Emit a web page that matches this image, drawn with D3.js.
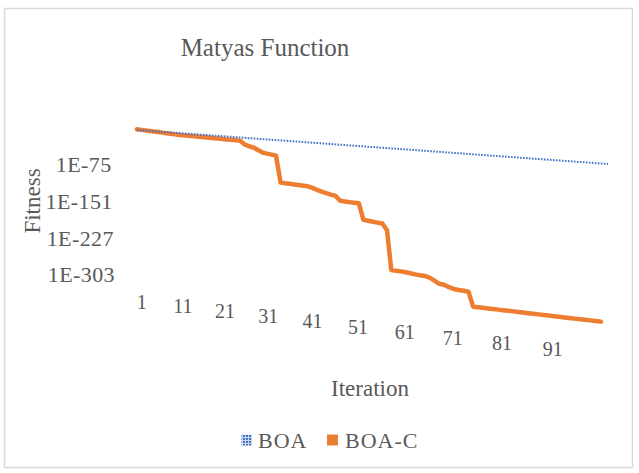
<!DOCTYPE html>
<html>
<head>
<meta charset="utf-8">
<script src="https://cdn.jsdelivr.net/npm/d3@7"></script>
<style>
  html, body { margin: 0; padding: 0; background: #ffffff; }
  svg { display: block; }
  svg text { font-family: 'Liberation Serif', 'DejaVu Serif', serif !important; fill: #595959; }
</style>
</head>
<body>
<svg id="chart" width="639" height="473" font-family="'Liberation Serif', 'DejaVu Serif', serif"></svg>
<script>
// ---------------- DATA ----------------
const title = "Matyas Function";
const xTitle = "Iteration";
const yTitle = "Fitness";
const seriesNames = ["BOA", "BOA-C"];
const iterations = d3.range(1, 101);          // categories 1..100
const xTickLabels = [1, 11, 21, 31, 41, 51, 61, 71, 81, 91];
const yTickExps = [-75, -151, -227, -303];     // log10 of tick values
const yTickLabels = ["1E-75", "1E-151", "1E-227", "1E-303"];

// log10(fitness) per iteration
const boaLog = [
  -1.1,-1.2,-1.2,-1.3,-1.4,-1.4,-1.5,-1.6,-1.6,-1.7,
  -1.7,-1.8,-1.9,-1.9,-2.0,-2.1,-2.1,-2.2,-2.3,-2.3,
  -2.4,-2.5,-2.5,-2.6,-2.7,-2.7,-2.8,-2.8,-2.9,-3.0,
  -3.0,-3.1,-3.2,-3.2,-3.3,-3.4,-3.4,-3.5,-3.6,-3.6,
  -3.7,-3.7,-3.8,-3.9,-3.9,-4.0,-4.1,-4.1,-4.2,-4.3,
  -4.3,-4.4,-4.5,-4.5,-4.6,-4.7,-4.7,-4.8,-4.8,-4.9,
  -5.0,-5.0,-5.1,-5.2,-5.2,-5.3,-5.4,-5.4,-5.5,-5.6,
  -5.6,-5.7,-5.8,-5.8,-5.9,-5.9,-6.0,-6.1,-6.1,-6.2,
  -6.3,-6.3,-6.4,-6.5,-6.5,-6.6,-6.7,-6.7,-6.8,-6.9,
  -6.9,-7.0,-7.0,-7.1,-7.2,-7.2,-7.3,-7.4,-7.4,-7.5
];
const boaCLog = [
  0.3,-0.2,-0.7,-1.2,-1.8,-2.4,-3.0,-3.6,-4.2,-4.8,
  -5.4,-5.7,-5.9,-6.1,-6.3,-6.6,-6.8,-7.0,-7.3,-7.6,
  -7.9,-8.1,-8.4,-8.7,-8.9,-15.5,-18.6,-20.6,-24.8,-28.9,
  -30.6,-31.9,-33.3,-85.0,-85.6,-86.0,-86.5,-87.0,-87.5,-88.0,
  -90.5,-93.5,-96.4,-98.5,-100.5,-102.4,-111.0,-111.6,-112.2,-112.7,
  -113.1,-144.0,-145.0,-146.0,-147.0,-148.0,-160.0,-235.7,-236.2,-236.6,
  -237.3,-238.5,-239.6,-240.2,-240.8,-243.0,-248.0,-253.0,-254.0,-257.5,
  -260.0,-261.0,-261.7,-262.4,-290.0,-290.1,-290.2,-290.3,-290.4,-290.5,
  -290.6,-290.7,-290.8,-290.9,-291.0,-291.1,-291.2,-291.3,-291.4,-291.5,
  -291.6,-291.7,-291.8,-291.9,-292.0,-292.0,-292.1,-292.1,-292.2,-292.3
];

// ---------------- LAYOUT ----------------
const W = 639, H = 473;
const FONT = "'Liberation Serif', 'DejaVu Serif', serif";
const colors = { boa: "#4472C4", boaC: "#ED7D31" };
// the picture is a slightly tilted view of the plot: corners of the plot quad on screen
const quad = [[137, 129], [608.2, 159.2], [600.7, 327.4], [141, 277.3]]; // TL, TR, BR, BL
const xLabelT = 1.169;   // label row below the plot (in plot-height units)
const yLabelS = -0.065;  // label column left of the plot (in plot-width units)

function makeHomography(q) {
  const [x0, y0] = q[0], [x1, y1] = q[1], [x2, y2] = q[2], [x3, y3] = q[3];
  const dx1 = x1 - x2, dx2 = x3 - x2, dx3 = x0 - x1 + x2 - x3;
  const dy1 = y1 - y2, dy2 = y3 - y2, dy3 = y0 - y1 + y2 - y3;
  const det = dx1 * dy2 - dx2 * dy1;
  const g = (dx3 * dy2 - dx2 * dy3) / det;
  const h = (dx1 * dy3 - dx3 * dy1) / det;
  const a = x1 - x0 + g * x1, b = x3 - x0 + h * x3, c = x0;
  const d = y1 - y0 + g * y1, e = y3 - y0 + h * y3, f = y0;
  return (s, t) => {
    const w = g * s + h * t + 1;
    return [(a * s + b * t + c) / w, (d * s + e * t + f) / w];
  };
}
const warp = makeHomography(quad);

const x = d3.scaleLinear().domain([1, 100]).range([0, 1]);
const y = d3.scaleLinear().domain([1, -303]).range([0, 1]); // log10 axis
const P = (n, lg) => warp(x(n), y(lg));

const svg = d3.select("#chart");
svg.append("rect").attr("x", 0).attr("y", 0).attr("width", W).attr("height", H).attr("fill", "#ffffff");
svg.append("rect").attr("x", 4.5).attr("y", 8.5).attr("width", 628).attr("height", 459)
  .attr("fill", "#ffffff").attr("stroke", "#d9d9d9").attr("stroke-width", 1.5);

// pattern for BOA legend key
const defs = svg.append("defs");
const pat = defs.append("pattern").attr("id", "boaPat").attr("patternUnits", "userSpaceOnUse")
  .attr("width", 3).attr("height", 3);
pat.append("rect").attr("width", 3).attr("height", 3).attr("fill", "#c9d7ef");
pat.append("rect").attr("width", 2).attr("height", 2).attr("fill", colors.boa);

const txt = (sel) => sel.attr("font-family", FONT).attr("fill", "#595959");

// title
svg.append("text").call(txt).attr("x", 265).attr("y", 56).attr("text-anchor", "middle")
  .attr("font-size", 25).text(title);

// lines
const line = (arr) => d3.line()
  .x((d, i) => P(iterations[i], d)[0])
  .y((d, i) => P(iterations[i], d)[1])(arr);

svg.append("path").attr("d", line(boaCLog)).attr("fill", "none")
  .attr("stroke", colors.boaC).attr("stroke-width", 4.5)
  .attr("stroke-linejoin", "round").attr("stroke-linecap", "round");
svg.append("path").attr("d", line(boaLog)).attr("fill", "none")
  .attr("stroke", colors.boa).attr("stroke-width", 2)
  .attr("stroke-dasharray", "1.6,1.4");

// y tick labels
svg.append("g").selectAll("text").data(yTickExps).join("text").call(txt)
  .attr("x", d => warp(yLabelS, y(d))[0])
  .attr("y", d => warp(yLabelS, y(d))[1])
  .attr("dy", "0.34em")
  .attr("text-anchor", "end")
  .attr("font-size", 22).attr("letter-spacing", 0.4)
  .text((d, i) => yTickLabels[i]);

// x tick labels
svg.append("g").selectAll("text").data(xTickLabels).join("text").call(txt)
  .attr("x", d => warp(x(d), xLabelT)[0])
  .attr("y", d => warp(x(d), xLabelT)[1])
  .attr("dy", "0.34em")
  .attr("text-anchor", "middle")
  .attr("font-size", 20)
  .text(d => d);

// axis titles
svg.append("text").call(txt).attr("transform", "translate(32,201) rotate(-90)")
  .attr("text-anchor", "middle").attr("dy", "0.34em").attr("font-size", 23).text(yTitle);
svg.append("text").call(txt).attr("x", 370).attr("y", 388).attr("dy", "0.34em")
  .attr("text-anchor", "middle").attr("font-size", 23).text(xTitle);

// legend
const leg = svg.append("g");
leg.append("rect").attr("x", 241.5).attr("y", 434.5).attr("width", 10.5).attr("height", 11)
  .attr("fill", "url(#boaPat)");
leg.append("text").call(txt).attr("x", 258).attr("y", 447.5).attr("font-size", 22)
  .attr("letter-spacing", 1).text(seriesNames[0]);
leg.append("rect").attr("x", 327).attr("y", 434.5).attr("width", 11).attr("height", 11)
  .attr("fill", colors.boaC);
leg.append("text").call(txt).attr("x", 345).attr("y", 447.5).attr("font-size", 22)
  .attr("letter-spacing", 1).text(seriesNames[1]);
</script>
</body>
</html>
